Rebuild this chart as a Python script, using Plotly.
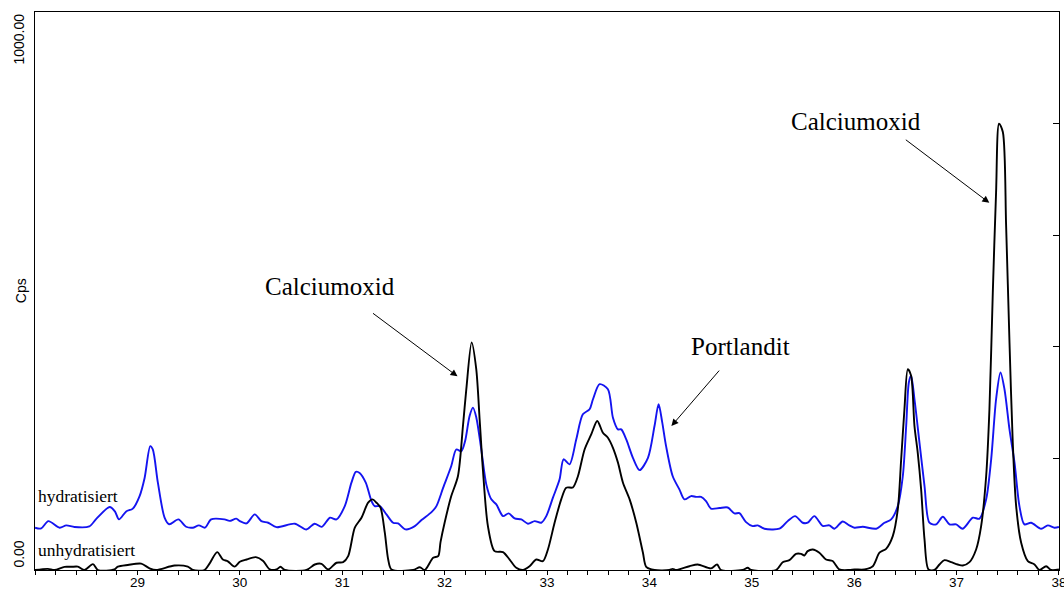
import plotly.graph_objects as go

# Diffractogram, 2-theta range 28-38 deg
hyd_x = [28.0, 28.06, 28.13, 28.24, 28.305, 28.385, 28.53, 28.6, 28.73, 28.78, 28.82, 28.89, 28.955,
         29.02, 29.07, 29.125, 29.15, 29.2, 29.265, 29.31, 29.4, 29.475, 29.54, 29.6, 29.66, 29.72,
         29.85, 29.9, 29.965, 30.0, 30.065, 30.146, 30.21, 30.277, 30.358, 30.537, 30.65, 30.73, 30.8,
         30.88, 30.944, 31.025, 31.09, 31.133, 31.17, 31.23, 31.286, 31.318, 31.367, 31.432, 31.497,
         31.546, 31.618, 31.709, 31.774, 31.872, 31.92, 31.986, 32.065, 32.114, 32.163, 32.2, 32.244,
         32.277, 32.31, 32.358, 32.407, 32.456, 32.505, 32.57, 32.625, 32.684, 32.749, 32.814, 32.879,
         32.944, 32.993, 33.058, 33.123, 33.162, 33.22, 33.286, 33.35, 33.416, 33.449, 33.514, 33.595,
         33.644, 33.693, 33.725, 33.774, 33.839, 33.904, 33.986, 34.05, 34.09, 34.125, 34.163, 34.228,
         34.293, 34.342, 34.407, 34.456, 34.505, 34.553, 34.602, 34.684, 34.765, 34.83, 34.879, 34.944,
         35.009, 35.058, 35.123, 35.27, 35.351, 35.423, 35.497, 35.546, 35.611, 35.693, 35.758, 35.807,
         35.888, 35.953, 36.003, 36.084, 36.215, 36.296, 36.361, 36.426, 36.475, 36.508, 36.534, 36.556,
         36.589, 36.638, 36.687, 36.735, 36.8, 36.866, 36.931, 36.996, 37.061, 37.159, 37.224, 37.289,
         37.338, 37.386, 37.429, 37.468, 37.517, 37.566, 37.614, 37.663, 37.728, 37.826, 37.891, 37.956,
         38.0]
hyd_y = [75.8, 74.5, 87.6, 75.8, 80, 77, 78, 92, 113, 105, 90.7, 105, 110,
         132, 165, 222, 216, 156, 94, 82, 90.7, 77.5, 75.8, 80, 75.8, 90.7,
         90.7, 88, 92, 87.6, 83.5, 99.6, 87.6, 84.7, 76.8, 83, 72.7, 83, 77.4,
         93.7, 90.7, 114.5, 156.5, 176, 174, 156.5, 123.6, 114.5, 114.5, 99.6, 84.7,
         83.5, 72.7, 78.6, 89.5, 103.8, 114.5, 147.5, 186.4, 216, 213, 231, 276,
         291, 273, 216, 153.5, 126.6, 117.6, 96.6, 101.4, 92.5, 90.7, 83, 87.6,
         84.7, 96.6, 129.6, 162.5, 198.4, 189.4, 234.3, 279, 288, 306, 333, 324,
         273, 252, 252, 234, 201, 179, 201, 258, 297, 265, 222, 168,
         144.5, 126.6, 132.5, 131, 131, 123.6, 110, 111, 112, 101.4, 102, 85.8,
         78.6, 80, 74, 74, 87.6, 96.6, 84.7, 84.7, 96.6, 79, 80, 74,
         87, 80, 75.8, 77.5, 74, 84.7, 90.7, 114.5, 168, 258, 336, 348,
         306, 228, 150.5, 84.7, 81.7, 95.5, 81.7, 81.7, 74, 93.7, 92, 126.6,
         198.4, 306, 354, 324, 252, 192.4, 114.5, 81.7, 84.7, 74, 80, 75.8,
         77]

unhyd_x = [28.0, 28.125, 28.19, 28.288, 28.353, 28.418, 28.483, 28.565, 28.614, 28.776, 28.809, 28.906,
           29.037, 29.118, 29.183, 29.362, 29.492, 29.541, 29.655, 29.704, 29.779, 29.834, 29.883,
           29.948, 30.0, 30.065, 30.156, 30.228, 30.293, 30.358, 30.397, 30.439, 30.651, 30.732, 30.798,
           30.863, 30.944, 31.009, 31.058, 31.123, 31.188, 31.253, 31.296, 31.335, 31.374, 31.416,
           31.449, 31.481, 31.693, 31.758, 31.807, 31.888, 31.937, 31.96, 32.0, 32.065, 32.13, 32.179,
           32.212, 32.264, 32.309, 32.342, 32.374, 32.423, 32.488, 32.57, 32.635, 32.7, 32.765, 32.83,
           32.895, 32.96, 33.009, 33.074, 33.139, 33.188, 33.253, 33.302, 33.367, 33.432, 33.491,
           33.546, 33.595, 33.644, 33.693, 33.742, 33.807, 33.872, 33.937, 33.969, 34.05, 34.195,
           34.228, 34.26, 34.391, 34.472, 34.602, 34.661, 34.7, 34.911, 34.96, 34.993, 35.237, 35.302,
           35.367, 35.432, 35.481, 35.514, 35.546, 35.595, 35.66, 35.725, 35.79, 35.855, 35.953,
           36.003, 36.1, 36.182, 36.247, 36.312, 36.377, 36.426, 36.459, 36.491, 36.524, 36.556,
           36.589, 36.621, 36.654, 36.687, 36.726, 36.784, 36.833, 36.882, 36.947, 37.012, 37.061,
           37.126, 37.191, 37.24, 37.289, 37.321, 37.354, 37.386, 37.415, 37.452, 37.484, 37.517,
           37.549, 37.582, 37.631, 37.696, 37.761, 37.81, 37.875, 37.924, 38.0]
unhyd_y = [0, 2, 0, 5.7, 5.7, 6, 0, 10.5, 0, 1, 6, 9,
           11.4, 3, 0, 8, 6, 0, 0, 11.4, 32, 18.8, 15.6,
           6, 14.7, 18.8, 23, 16, 1, 1, 5.7, 0, 0, 9.9, 11,
           1, 13, 14, 24.8, 75.8, 93.7, 120.6, 126.6, 120.6, 111.7, 66.8,
           18.8, 1, 0, 5, 0, 21.9, 24.8, 50, 84.7, 132.5, 168, 258,
           324, 408, 360, 270, 180, 78.6, 33.8, 32, 18.8, 4, 0, 6.8,
           18.8, 15.8, 36.8, 84.7, 126.6, 147.5, 148, 168, 216, 243, 267,
           246, 237, 219, 192.4, 156.5, 126.6, 84.7, 31, 5.7, 0, 0,
           2, 0, 6.8, 9.9, 3, 9.9, 0, 0, 4, 0, 0, 14,
           17.6, 29, 29, 26, 33.8, 36.8, 31, 18.8, 16, 1, 0,
           1, 1, 6.8, 31, 38, 60.7, 108.6, 198.4, 288, 360, 348,
           258, 210, 144.5, 54.8, 1, 0, 9.9, 17.6, 14, 9.9, 8,
           14, 36.8, 78.6, 168, 288, 497.6, 677, 800, 785, 617, 408,
           228, 114.5, 48.8, 15.8, 10, 0, 6.8, 0, 1]

x_range = [27.9995, 38.0005]
y_range = [0, 1000]
x_ticks = [29, 30, 31, 32, 33, 34, 35, 36, 37, 38]
y_inner_ticks = [200, 400, 600, 800]

serif = "Liberation Serif, Times New Roman, serif"
sans = "Liberation Sans, Arial, sans-serif"

fig = go.Figure()
fig.add_trace(go.Scatter(x=hyd_x, y=hyd_y, mode="lines", name="hydratisiert",
                         line=dict(color="#1414f0", width=1.9, shape="spline", smoothing=0.8)))
fig.add_trace(go.Scatter(x=unhyd_x, y=unhyd_y, mode="lines", name="unhydratisiert",
                         line=dict(color="#000000", width=1.9, shape="spline", smoothing=0.8)))

annotations = [
    # y tick labels on the left edge
    dict(text="1000.00", xref="paper", x=-0.0165, xanchor="center", yref="y", y=1000,
         yanchor="top", textangle=-90, showarrow=False,
         font=dict(family=sans, size=14, color="black")),
    dict(text="0.00", xref="paper", x=-0.0165, xanchor="center", yref="y", y=0,
         yanchor="bottom", textangle=-90, showarrow=False,
         font=dict(family=sans, size=14, color="black")),
    dict(text="Cps", xref="paper", x=-0.0135, xanchor="center", yref="paper", y=0.5,
         textangle=-90, showarrow=False, font=dict(family=sans, size=14, color="black")),
    # series labels
    dict(text="hydratisiert", x=28.01, y=133, xanchor="left", showarrow=False,
         font=dict(family=serif, size=17.5, color="black")),
    dict(text="unhydratisiert", x=28.01, y=35, xanchor="left", showarrow=False,
         font=dict(family=serif, size=17.5, color="black")),
    # phase labels
    dict(text="Calciumoxid", x=30.876, y=508, showarrow=False,
         font=dict(family=serif, size=25, color="black")),
    dict(text="Portlandit", x=34.89, y=400, showarrow=False,
         font=dict(family=serif, size=25, color="black")),
    dict(text="Calciumoxid", x=36.02, y=803, showarrow=False,
         font=dict(family=serif, size=25, color="black")),
]

# arrows from the phase labels to their peaks (tail -> head)
arrows = [
    (31.286, 462, 32.126, 347),
    (34.694, 360, 34.215, 258),
    (36.49, 773, 37.32, 658),
]
for tx, ty, hx, hy in arrows:
    annotations.append(dict(text="", x=hx, y=hy, ax=tx, ay=ty, axref="x", ayref="y",
                            showarrow=True, arrowhead=2, arrowsize=1.4, arrowwidth=1,
                            arrowcolor="black", standoff=0))

fig.update_layout(
    width=1064, height=590,
    margin=dict(l=35, r=5, t=12, b=20),
    paper_bgcolor="white", plot_bgcolor="white",
    showlegend=False,
    annotations=annotations,
    xaxis=dict(range=x_range, tickvals=x_ticks, showgrid=False, zeroline=False, automargin=False,
               showline=True, linecolor="black", linewidth=1, mirror=True,
               ticks="outside", ticklen=4, tickcolor="black", tickwidth=1,
               ticklabelstandoff=-4, ticklabeloverflow="allow",
               minor=dict(dtick=0.2, tick0=28, ticks="outside", ticklen=4, tickcolor="black"),
               tickfont=dict(family=sans, size=13.5, color="black")),
    yaxis=dict(range=y_range, side="right", tickvals=y_inner_ticks, showticklabels=False,
               automargin=False,
               showgrid=False, zeroline=False, showline=True, linecolor="black", linewidth=1,
               mirror=True, ticks="inside", ticklen=6, tickcolor="black"),
)

fig.write_html("out.html")
